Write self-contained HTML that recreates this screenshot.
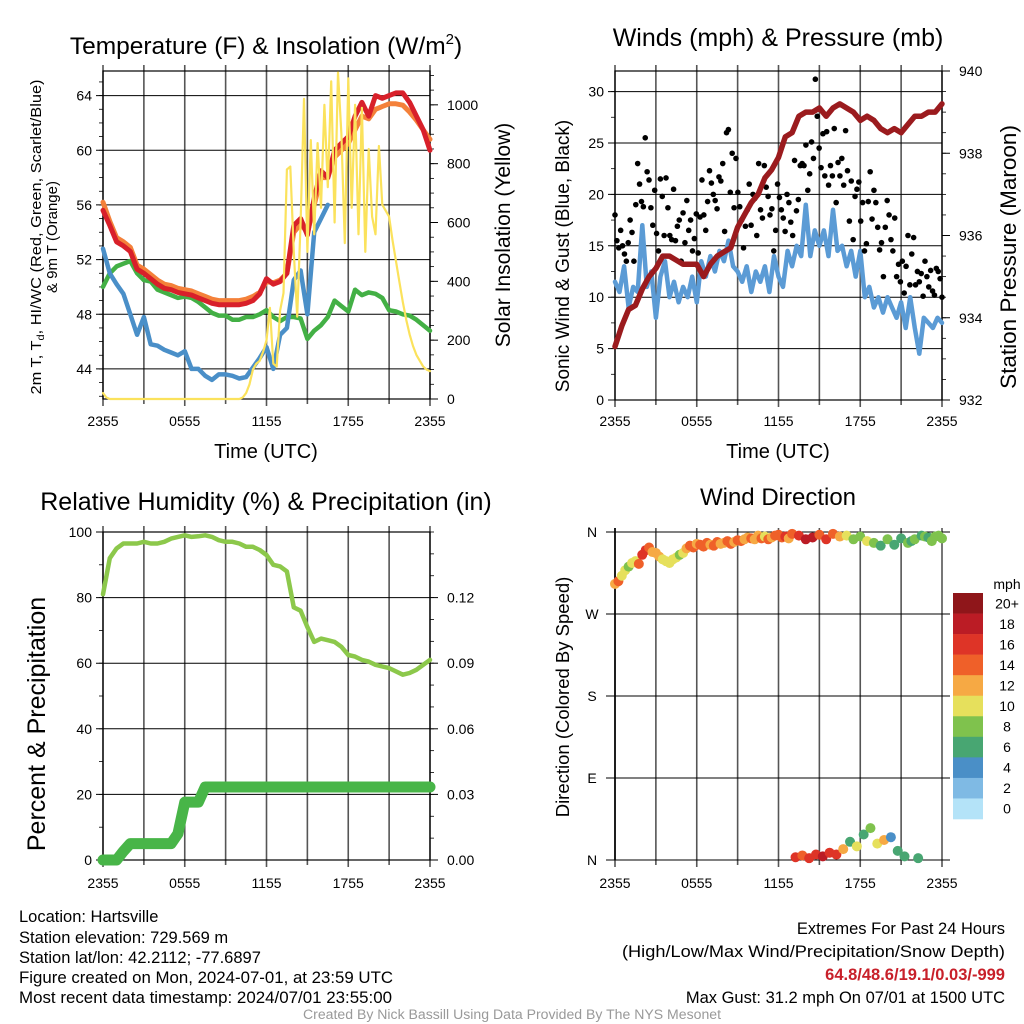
<!DOCTYPE html>
<html><head><meta charset="utf-8"><style>
html,body{margin:0;padding:0;background:#fff;}
svg{display:block;font-family:"Liberation Sans",sans-serif;}
</style></head><body>
<svg id="chart" xmlns="http://www.w3.org/2000/svg" width="1024" height="1024" viewBox="0 0 1024 1024">
<rect width="1024" height="1024" fill="#fff"/>
<text x="266" y="54" font-size="24.5" text-anchor="middle">Temperature (F) &amp; Insolation (W/m<tspan font-size="15" dy="-10">2</tspan><tspan dy="10">)</tspan></text>
<text x="778" y="46" font-size="25" text-anchor="middle">Winds (mph) &amp; Pressure (mb)</text>
<text x="266" y="510" font-size="25" text-anchor="middle">Relative Humidity (%) &amp; Precipitation (in)</text>
<text x="778" y="505" font-size="24" text-anchor="middle">Wind Direction</text>
<g font-size="15" text-anchor="middle">
<text transform="translate(41,237) rotate(-90)" textLength="315" lengthAdjust="spacingAndGlyphs">2m T, T<tspan font-size="10" dy="3">d</tspan><tspan dy="-3">, HI/WC (Red, Green, Scarlet/Blue)</tspan></text>
<text transform="translate(57,237) rotate(-90)">&amp; 9m T (Orange)</text>
</g>
<text transform="translate(510,235) rotate(-90)" font-size="21" text-anchor="middle">Solar Insolation (Yellow)</text>
<text transform="translate(569,256) rotate(-90)" font-size="19" text-anchor="middle">Sonic Wind &amp; Gust (Blue, Black)</text>
<text transform="translate(1016,257) rotate(-90)" font-size="22.5" text-anchor="middle">Station Pressure (Maroon)</text>
<text transform="translate(45,724) rotate(-90)" font-size="25" text-anchor="middle">Percent &amp; Precipitation</text>
<text transform="translate(569,697) rotate(-90)" font-size="18.5" text-anchor="middle">Direction (Colored By Speed)</text>
<text x="266" y="458" font-size="20" text-anchor="middle">Time (UTC)</text>
<text x="778" y="458" font-size="20" text-anchor="middle">Time (UTC)</text>
<g font-size="16.5">
<text x="19" y="922">Location: Hartsville</text>
<text x="19" y="943">Station elevation: 729.569 m</text>
<text x="19" y="963">Station lat/lon: 42.2112; -77.6897</text>
<text x="19" y="983" textLength="374" lengthAdjust="spacingAndGlyphs">Figure created on Mon, 2024-07-01, at 23:59 UTC</text>
<text x="19" y="1003" textLength="373" lengthAdjust="spacingAndGlyphs">Most recent data timestamp: 2024/07/01 23:55:00</text>
</g>
<g font-size="16.5" text-anchor="end">
<text x="1005" y="934">Extremes For Past 24 Hours</text>
<text x="1005" y="957" textLength="383" lengthAdjust="spacingAndGlyphs">(High/Low/Max Wind/Precipitation/Snow Depth)</text>
<text x="1005" y="980" fill="#c8202a" font-weight="bold">64.8/48.6/19.1/0.03/-999</text>
<text x="1005" y="1003">Max Gust: 31.2 mph On 07/01 at 1500 UTC</text>
</g>
<text x="512" y="1019" font-size="13.5" fill="#999" text-anchor="middle" textLength="418" lengthAdjust="spacingAndGlyphs">Created By Nick Bassill Using Data Provided By The NYS Mesonet</text>
</svg>
<script>
// ---- data (half-hour steps unless noted) ----
const timeLabels = ["2355","0555","1155","1755","2355"];
const tempT = [55.6,54.5,53.3,53.0,52.6,51.3,51.0,50.6,50.2,49.9,49.8,49.6,49.5,49.4,49.2,49.0,48.8,48.7,48.7,48.7,48.7,48.8,49.0,49.5,50.6,50.2,50.4,51.0,54.5,55.0,53.8,56.5,58.5,58.0,60.0,60.5,61.0,62.5,63.5,62.5,64.0,63.8,64.0,64.2,64.2,63.5,62.5,61.5,60.0];
const temp9m = [56.2,54.8,53.6,53.3,52.9,51.6,51.3,50.9,50.5,50.2,50.1,49.9,49.8,49.7,49.5,49.3,49.1,49.0,49.0,49.0,49.0,49.1,49.3,49.6,50.4,50.3,50.5,51.0,54.0,54.6,54.0,56.0,58.0,58.0,59.5,60.0,60.5,61.5,62.5,62.3,63.0,63.2,63.4,63.4,63.3,62.8,62.2,61.5,60.8];
const dewpoint = [50.0,51.0,51.5,51.7,51.9,51.0,50.5,50.4,49.8,49.6,49.4,49.2,49.3,49.2,48.9,48.5,48.1,47.9,47.9,47.6,47.6,47.8,47.8,48.0,48.3,47.8,47.5,47.8,47.8,47.7,46.2,46.8,47.2,47.8,49.0,48.6,48.2,49.8,49.4,49.6,49.5,49.2,48.3,48.2,48.0,47.9,47.6,47.2,46.8];
const windChill = [52.8,51.0,50.2,49.5,48.0,46.5,47.8,45.8,45.7,45.4,45.2,45.0,45.3,44.0,44.0,43.5,43.2,43.6,43.6,43.5,43.3,43.4,44.1,44.8,45.6,44.0,46.5,47.0,50.5,51.2,48.0,54.0,55.0,56.0];
// quarter-hour steps
const solar = [20,5,0,0, 0,0,0,0,0,0,0,0,0,0,0,0,0,0,0,0,0,0,0,0,0,0,0,0,0,0,0,0,0,0,0,0,0,0,0,0, 0,5,20,50, 100,120,130,160, 200,310,120,110, 300,360,780,790, 500,280,600,1020, 500,880,560,870, 650,1000,720,1080, 600,1110,900,530, 1090,650,1000,560, 990,500,850,620, 560,860,660,640, 620,540,470,400, 330,270,220,180, 150,130,110,100, 95];
const pressure = [933.3,933.8,934.2,934.3,934.7,935.0,935.2,935.5,935.5,935.4,935.3,935.3,935.3,935.0,935.3,935.5,935.6,935.7,936.2,936.5,936.8,937.0,937.4,937.6,937.9,938.4,938.5,938.9,939.0,939.0,939.1,938.9,939.1,939.2,939.1,939.0,938.8,938.9,938.8,938.6,938.5,938.6,938.5,938.7,938.9,938.9,939.0,939.0,939.2];
// 20-minute steps
const windSpeed = [11.5,10.5,13,9,11,10.5,17,11,12.5,8,12,13.5,10,11.5,9.5,11,10,12,9.5,13.5,12,14,12.5,14.5,13.5,15.5,13,12.5,11.5,13,10.5,12.5,11.5,13,10.5,14,12,11,14.5,13,15,14,19,14,16.5,15,16.5,14,18.5,14.5,15,13,14.5,12,14.5,10,11,9,10,8.5,10,9,8,9.5,7,10,7,4.5,8,7.5,7,8,7.5];
const windGust = [18,15.5,14.8,16.5,15,14.2,13.5,15.3,17.5,16.3,13.5,19,23,21,19.3,18.8,25.5,22.2,21.4,18.7,17,20.4,16.2,14.5,21.5,19.8,16,21.6,18.7,16,15.6,20.5,15.5,16.9,17.5,13.5,18.2,15.3,19.4,16.5,17.5,14.5,15.7,18.1,14.3,17.8,21.4,18,16.5,19.3,22.3,21.1,20,19.4,18.6,21.7,21.3,23,16.4,26,26.3,20.2,24,18.7,23.5,20.2,18.8,17.5,14.8,16.9,18.5,21,17,20,19.6,16,23,18.5,17.7,22.8,20.7,19.8,18,18.6,14.5,16.5,21,19.7,18.5,17.7,16.4,20,19.2,17.3,16,23.3,18.4,19.5,22.8,23,22.8,24.8,20.4,22,25.1,23.5,31.2,27.6,24.5,22.6,25.9,21.8,26.1,20.9,22.8,21.8,26.4,19.2,23.1,21.8,23.5,20.9,26.2,22.3,17.4,21.3,15.6,19.8,20.5,21.2,17.4,19.2,14.5,15.2,19.3,22.2,17.6,20.4,19.2,16.8,14.6,15.3,12,16.8,19.4,18,15.6,14.5,17.7,12,13.2,11.5,13.5,10.4,13,16,11.2,14.2,15.8,11.2,12.5,11.5,12.3,10.1,13.5,12,11,12.6,10.6,10.2,12.8,12.5,11.8,10];
const humidity = [81,92,95,96.5,96.5,96.5,97,96.5,96.5,97,98,98.5,99,98.5,98.7,99,98.5,97.5,97,97,96.5,95.5,95.5,94.5,93,90,89.5,88,77,76,71,66.5,67.5,67,66.5,65,62.5,62,61,60.5,59.5,59,58.5,57.5,56.5,57,58,59.5,61];
const precip = [0,0,0,0.004,0.0075,0.0075,0.0075,0.0075,0.0075,0.0075,0.0075,0.012,0.0265,0.0265,0.0265,0.0334,0.0334,0.0334,0.0334,0.0334,0.0334,0.0334,0.0334,0.0334,0.0334,0.0334,0.0334,0.0334,0.0334,0.0334,0.0334,0.0334,0.0334,0.0334,0.0334,0.0334,0.0334,0.0334,0.0334,0.0334,0.0334,0.0334,0.0334,0.0334,0.0334,0.0334,0.0334,0.0334,0.0334];
// quarter-hour steps
const windDir = [303,306,312,318,322,326,328,325,335,340,343,338,337,333,330,328,326,330,332,335,337,342,345,343,347,346,344,348,346,345,349,347,348,350,347,349,351,350,352,354,353,352,356,353,355,352,354,356,357,354,355,353,358,3,356,5,352,2,354,6,357,4,352,8,358,6,355,12,356,20,352,15,355,28,350,35,348,18,345,22,352,25,346,10,353,4,348,350,352,2,356,355,354,350,355,356,353];
const windDirSpeed = [12,14,10,10,9,10,11,15,17,16,14,13,12,13,11,10,10,11,10,9,11,13,15,14,13,14,15,14,12,15,14,12,13,15,14,13,15,14,12,13,14,13,12,15,11,14,12,15,15,14,16,13,15,16,17,14,18,16,19,17,14,18,17,16,15,17,12,13,10,6,9,10,8,7,10,9,9,11,6,12,8,4,7,6,7,7,8,7,8,6,7,8,7,8,8,9,8];
const speedBins = ["0","2","4","6","8","10","12","14","16","18","20+"];
const speedColors = ["#b4e3f8","#7fbae4","#4a8fc7","#48a672","#7fc24d","#e6e05c","#f6a944","#ef6029","#de3427","#bb1c25","#8f161a"];

const NS = "http://www.w3.org/2000/svg";
const svg = document.getElementById('chart');
function mk(tag, attrs, parent){ const e=document.createElementNS(NS,tag); for(const k in attrs) e.setAttribute(k,attrs[k]); (parent||svg).appendChild(e); return e; }
function lin(d0,d1,r0,r1){ return v => r0 + (v-d0)/(d1-d0)*(r1-r0); }

function frame(name, x0,x1,y0,y1, leftTicks, leftScale, leftMinor, rightTicks, rightScale, rightMinor, rightFmt, leftFmt, tickLabelY){
  const g = mk('g',{});
  
  
  const xs = lin(0,24,x0,x1);
  for(let h=0; h<=24; h+=3){
    const l = mk('line',{x1:xs(h),x2:xs(h),y1:y0-6,y2:y1+(h%6===0?7:5),stroke:'#555','stroke-width':1.6},g);
    
    
  }
  for(let i=0;i<timeLabels.length;i++){
    const t = mk('text',{x:xs(i*6),y:tickLabelY,'font-size':14,'text-anchor':'middle'},g);
    t.textContent = timeLabels[i];
    
    
  }
  leftMinor.forEach(v=>{ const l=mk('line',{x1:x0-4,x2:x0,y1:leftScale(v),y2:leftScale(v),stroke:'#000','stroke-width':0.8},g);
    
     });
  leftTicks.forEach(v=>{
    const y = leftScale(v);
    const l = mk('line',{x1:x0-7,x2:x1,y1:y,y2:y,stroke:'#000','stroke-width':1},g);
    
    
    const t = mk('text',{x:x0-11,y:y+5,'font-size':14,'text-anchor':'end'},g);
    t.textContent = leftFmt(v);
    
    
  });
  if(rightScale){
    rightMinor.forEach(v=>{ const l=mk('line',{x1:x1,x2:x1+4,y1:rightScale(v),y2:rightScale(v),stroke:'#000','stroke-width':0.8},g);
      
       });
    rightTicks.forEach(v=>{
      const y = rightScale(v);
      const l = mk('line',{x1:x1,x2:x1+8,y1:y,y2:y,stroke:'#000','stroke-width':1},g);
      
      
      const t = mk('text',{x:x1+17,y:y+5,'font-size':14},g);
      t.textContent = rightFmt(v);
      
      
    });
  }
  const r = mk('rect',{x:x0,y:y0,width:x1-x0,height:y1-y0,fill:'none',stroke:'#000','stroke-width':1.2},g);
  
  
  return xs;
}
function range(a,b,s){ const o=[]; for(let v=a; v<=b+1e-9; v+=s) o.push(+v.toFixed(4)); return o; }
function line(name, arr, hoursSpan, xs, ys, color, w){
  const step = hoursSpan/(arr.length-1);
  const pts = arr.map((v,i)=> xs(i*step).toFixed(1)+','+ys(v).toFixed(1)).join(' ');
  const p = mk('polyline',{points:pts,fill:'none',stroke:color,'stroke-width':w,'stroke-linejoin':'round','stroke-linecap':'round'});
  
  
  return p;
}

// ---- Panel 1: Temperature ----
const tY = lin(41.8,65.8,399,71);
const sY = lin(0,1115,399,71);
const x1s = frame('temperature',103,430,71,399,[44,48,52,56,60,64],tY,range(42,65,1),[0,200,400,600,800,1000],sY,range(0,1100,50),v=>String(v),v=>String(v),426);
line('dewpoint-line',dewpoint,24,x1s,tY,'#43b045',4.5);
line('windchill-line',windChill,windChill.length/2-0.5,x1s,tY,'#4a8fc8',4.5);
line('temperature-9m-line',temp9m,24,x1s,tY,'#f4813a',5);
line('temperature-2m-line',tempT,24,x1s,tY,'#d8202a',5);
line('solar-insolation-line',solar,24,x1s,sY,'#fbe25c',2.2);

// ---- Panel 2: Winds & Pressure ----
const wY = lin(0,32,400,71);
const pY = lin(932,940,400,71);
const x2s = frame('winds',615,942,71,400,[0,5,10,15,20,25,30],wY,range(0,32,2.5),[932,934,936,938,940],pY,range(932,940,0.5),v=>String(v),v=>String(v),426);
line('sonic-wind-line',windSpeed,24,x2s,wY,'#5b9bd5',4.5);
const gStep = 24/(windGust.length-1);
windGust.forEach((v,i)=>{
  const c = mk('circle',{cx:x2s(i*gStep),cy:wY(v),r:2.8,fill:'#000'});
  
  
});
line('station-pressure-line',pressure,24,x2s,pY,'#9b1b1e',5.5);

// ---- Panel 3: Humidity & Precipitation ----
const hY = lin(0,100,860,532);
const prY = lin(0,0.15,860,532);
const x3s = frame('humidity',103,430,532,860,[0,20,40,60,80,100],hY,range(0,100,10),[0,0.03,0.06,0.09,0.12],prY,range(0,0.15,0.01),v=>v.toFixed(2),v=>String(v),888);
line('precipitation-line',precip,24,x3s,prY,'#48b548',11);
line('relative-humidity-line',humidity,24,x3s,hY,'#8cc84b',4.5);

// ---- Panel 4: Wind Direction ----
const dY = lin(0,360,860,532);
const dirLabels = ["N","E","S","W","N"];
const g4 = mk('g',{});


const x4s = lin(0,24,615,942);
for(let h=0; h<=24; h+=3){
  const l = mk('line',{x1:x4s(h),x2:x4s(h),y1:528,y2:860+(h%6===0?7:5),stroke:'#555','stroke-width':1.6},g4);
  
  
}
for(let i=0;i<timeLabels.length;i++){
  const t = mk('text',{x:x4s(i*6),y:888,'font-size':14,'text-anchor':'middle'},g4);
  t.textContent = timeLabels[i];
  
  
}
dirLabels.forEach((lab,i)=>{
  const y = dY(i*90);
  const l = mk('line',{x1:606,x2:950,y1:y,y2:y,stroke:'#000','stroke-width':1},g4);
  
  
  const t = mk('text',{x:592,y:y+5,'font-size':14,'text-anchor':'middle'},g4);
  t.textContent = lab;
  
  
});
const lb = mk('line',{x1:615,x2:615,y1:528,y2:860,stroke:'#000','stroke-width':1.6},g4);


const dStep = 24/(windDir.length-1);
function colorFor(s){ let i=Math.floor(s/2); if(i>10) i=10; if(i<0) i=0; return speedColors[i]; }
windDir.forEach((d,i)=>{
  const c = mk('circle',{cx:x4s(i*dStep),cy:dY(d),r:5,fill:colorFor(windDirSpeed[i])});
  
  
});
// colorbar
const cb = mk('g',{});


const ttl = mk('text',{x:1007,y:589,'font-size':14,'text-anchor':'middle'},cb);
ttl.textContent='mph';


const boxH = (819-593)/speedBins.length;
for(let i=0;i<speedBins.length;i++){
  const k = speedBins.length-1-i;
  const y = 593 + i*boxH;
  const r = mk('rect',{x:953,y:y,width:30,height:boxH+0.3,fill:speedColors[k]},cb);
  
  
  const t = mk('text',{x:1007,y:y+boxH/2+5,'font-size':14,'text-anchor':'middle'},cb);
  t.textContent = speedBins[k];
  
  
}
</script>
</body></html>
